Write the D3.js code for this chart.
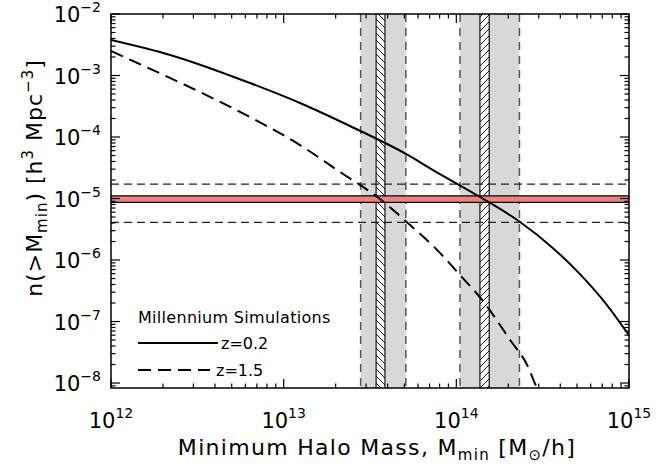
<!DOCTYPE html>
<html><head><meta charset="utf-8">
<script src="https://cdn.jsdelivr.net/npm/d3@7"></script>
<style>
body{margin:0;background:#fff}
svg{display:block}
text{font-family:"DejaVu Sans",sans-serif;fill:#000}
</style>
</head><body>
<svg id="c" width="668" height="467"></svg>
<script>
// ---- data ----
const massZ02 = [1e12, 2.20e12, 6.38e12, 1.243e13, 2.42e13, 5.11e13, 7.33e13, 1.37e14, 2.34e14, 3.63e14, 5.2e14, 7.3e14, 1e15];
const nZ02    = [3.78e-3, 2.16e-3, 7.55e-4, 3.57e-4, 1.51e-4, 5.3e-5, 2.9e-5, 1.06e-5, 4.15e-6, 1.56e-6, 5.9e-7, 2.0e-7, 6.0e-8];
const massZ15 = [1e12, 1.34e12, 3.27e12, 6.38e12, 1.243e13, 2.12e13, 3.61e13, 5.4e13, 7.73e13, 1.05e14, 1.41e14, 2.05e14, 2.57e14, 2.93e14, 3.1e14];
const nZ15    = [2.5e-3, 1.72e-3, 5.4e-4, 2.11e-4, 7.4e-5, 2.7e-5, 9.8e-6, 3.7e-6, 1.46e-6, 5.7e-7, 2.24e-7, 5.0e-8, 1.96e-8, 8.3e-9, 6e-9];
const greyBands  = [[2.79e13, 5.1e13], [1.05e14, 2.32e14]];
const hatchBands = [[3.43e13, 3.86e13], [1.37e14, 1.55e14]];
const hatchDirs  = ["back", "fwd"];
const redBand    = [8.67e-6, 1.1e-5];
const dashedLevels = [1.72e-5, 4.1e-6];
const xTickExps = [12, 13, 14, 15];
const yTickExps = [-2, -3, -4, -5, -6, -7, -8];
const legendLabels = ["z=0.2", "z=1.5"];
const legendTitle = "Millennium Simulations";

// ---- layout ----
const L = 111, R = 629, T = 14, B = 388;
const svg = d3.select("#c");
const x = d3.scaleLog().domain([1e12, 1e15]).range([L, R]);
const y = d3.scaleLog().domain([8.3e-9, 1e-2]).range([B, T]);

const defs = svg.append("defs");
defs.append("clipPath").attr("id", "clip").append("rect")
  .attr("x", L).attr("y", T).attr("width", R - L).attr("height", B - T);
function hatch(id, dir) {
  const p = defs.append("pattern").attr("id", id).attr("patternUnits", "userSpaceOnUse")
    .attr("width", 7).attr("height", 7);
  p.append("rect").attr("width", 7).attr("height", 7).attr("fill", "#fff");
  const d = dir === "fwd" ? "M-2,2 L2,-2 M0,7 L7,0 M5,9 L9,5" : "M-2,5 L2,9 M0,0 L7,7 M5,-2 L9,2";
  p.append("path").attr("d", d).attr("stroke", "#000").attr("stroke-width", 0.9);
}
hatch("hfwd", "fwd"); hatch("hback", "back");

const g = svg.append("g").attr("clip-path", "url(#clip)");

// grey bands
greyBands.forEach(b => {
  g.append("rect").attr("x", x(b[0])).attr("y", T).attr("width", x(b[1]) - x(b[0])).attr("height", B - T)
    .attr("fill", "#d8d8d8");
});
// hatched bands
hatchBands.forEach((b, i) => {
  g.append("rect").attr("x", x(b[0])).attr("y", T).attr("width", x(b[1]) - x(b[0])).attr("height", B - T)
    .attr("fill", hatchDirs[i] === "fwd" ? "url(#hfwd)" : "url(#hback)");
  b.forEach(v => g.append("line").attr("x1", x(v)).attr("x2", x(v)).attr("y1", T).attr("y2", B)
    .attr("stroke", "#000").attr("stroke-width", 1.1));
});
// dashed grey band borders
greyBands.forEach(b => b.forEach(v => {
  g.append("line").attr("x1", x(v)).attr("x2", x(v)).attr("y1", T).attr("y2", B)
    .attr("stroke", "#555").attr("stroke-width", 1.5).attr("stroke-dasharray", "8,6");
}));
// horizontal dashed lines
dashedLevels.forEach(v => {
  g.append("line").attr("x1", L).attr("x2", R).attr("y1", y(v)).attr("y2", y(v))
    .attr("stroke", "#222").attr("stroke-width", 1.2).attr("stroke-dasharray", "8,5");
});
// red band
g.append("rect").attr("x", L).attr("width", R - L).attr("y", y(redBand[1])).attr("height", y(redBand[0]) - y(redBand[1]))
  .attr("fill", "#f47f7f");
redBand.forEach(v => g.append("line").attr("x1", L).attr("x2", R).attr("y1", y(v)).attr("y2", y(v))
  .attr("stroke", "#000").attr("stroke-width", 1.3));

// curves
const line = d3.line().x(d => x(d[0])).y(d => y(d[1])).curve(d3.curveMonotoneX);
g.append("path").datum(d3.zip(massZ02, nZ02)).attr("d", line)
  .attr("fill", "none").attr("stroke", "#000").attr("stroke-width", 2);
g.append("path").datum(d3.zip(massZ15, nZ15)).attr("d", line)
  .attr("fill", "none").attr("stroke", "#000").attr("stroke-width", 2).attr("stroke-dasharray", "13,7");

// axes: box with inward ticks on all sides
const ax = svg.append("g");
ax.append("rect").attr("x", L).attr("y", T).attr("width", R - L).attr("height", B - T)
  .attr("fill", "none").attr("stroke", "#000").attr("stroke-width", 1.5);
const xt = x.ticks(); const yt = y.ticks();
const isMajor = v => Math.abs(Math.log10(v) - Math.round(Math.log10(v))) < 1e-9;
xt.forEach(v => {
  const len = isMajor(v) ? 9 : 4.5, px = x(v);
  ax.append("line").attr("x1", px).attr("x2", px).attr("y1", B).attr("y2", B - len).attr("stroke", "#000").attr("stroke-width", 1.2);
  ax.append("line").attr("x1", px).attr("x2", px).attr("y1", T).attr("y2", T + len).attr("stroke", "#000").attr("stroke-width", 1.2);
});
yt.forEach(v => {
  if (v < y.domain()[0] || v > y.domain()[1]) return;
  const len = isMajor(v) ? 9 : 4.5, py = y(v);
  ax.append("line").attr("y1", py).attr("y2", py).attr("x1", L).attr("x2", L + len).attr("stroke", "#000").attr("stroke-width", 1.2);
  ax.append("line").attr("y1", py).attr("y2", py).attr("x1", R).attr("x2", R - len).attr("stroke", "#000").attr("stroke-width", 1.2);
});

// tick labels
xTickExps.forEach(e => {
  const t = svg.append("text").attr("x", x(Math.pow(10, e))).attr("y", 428)
    .attr("text-anchor", "middle").attr("font-size", 21);
  t.append("tspan").text("10");
  t.append("tspan").attr("dy", -10).attr("font-size", 14).text(String(e));
});
yTickExps.forEach(e => {
  const t = svg.append("text").attr("x", 101).attr("y", y(Math.pow(10, e)) + 8)
    .attr("text-anchor", "end").attr("font-size", 21);
  t.append("tspan").text("10");
  t.append("tspan").attr("dy", -10).attr("font-size", 14).text("\u2212" + Math.abs(e));
});

// axis titles
const xtitle = svg.append("text").attr("x", 377).attr("y", 455).attr("text-anchor", "middle")
  .attr("font-size", 22).attr("letter-spacing", 1.3);
xtitle.append("tspan").text("Minimum Halo Mass, M");
xtitle.append("tspan").attr("dy", 5).attr("font-size", 15).text("min");
xtitle.append("tspan").attr("dy", -5).text(" [M");
xtitle.append("tspan").attr("dy", 5).attr("font-size", 15).text("\u2299");
xtitle.append("tspan").attr("dy", -5).text("/h]");

const ytitle = svg.append("text").attr("transform", "translate(42,178) rotate(-90)")
  .attr("text-anchor", "middle").attr("font-size", 22).attr("letter-spacing", 1);
ytitle.append("tspan").text("n(>M");
ytitle.append("tspan").attr("dy", 5).attr("font-size", 15).text("min");
ytitle.append("tspan").attr("dy", -5).text(") [h");
ytitle.append("tspan").attr("dy", -9).attr("font-size", 15).text("3");
ytitle.append("tspan").attr("dy", 9).text(" Mpc");
ytitle.append("tspan").attr("dy", -9).attr("font-size", 15).text("\u22123");
ytitle.append("tspan").attr("dy", 9).text("]");

// legend
svg.append("text").attr("x", 138).attr("y", 323).attr("font-size", 16).attr("letter-spacing", 0.3).text(legendTitle);
svg.append("line").attr("x1", 138).attr("x2", 218).attr("y1", 343).attr("y2", 343)
  .attr("stroke", "#000").attr("stroke-width", 2);
svg.append("line").attr("x1", 138).attr("x2", 210).attr("y1", 370).attr("y2", 370)
  .attr("stroke", "#000").attr("stroke-width", 2).attr("stroke-dasharray", "13,7");
svg.append("text").attr("x", 221).attr("y", 349).attr("font-size", 16).text(legendLabels[0]);
svg.append("text").attr("x", 216).attr("y", 376).attr("font-size", 16).text(legendLabels[1]);
</script>
</body></html>
